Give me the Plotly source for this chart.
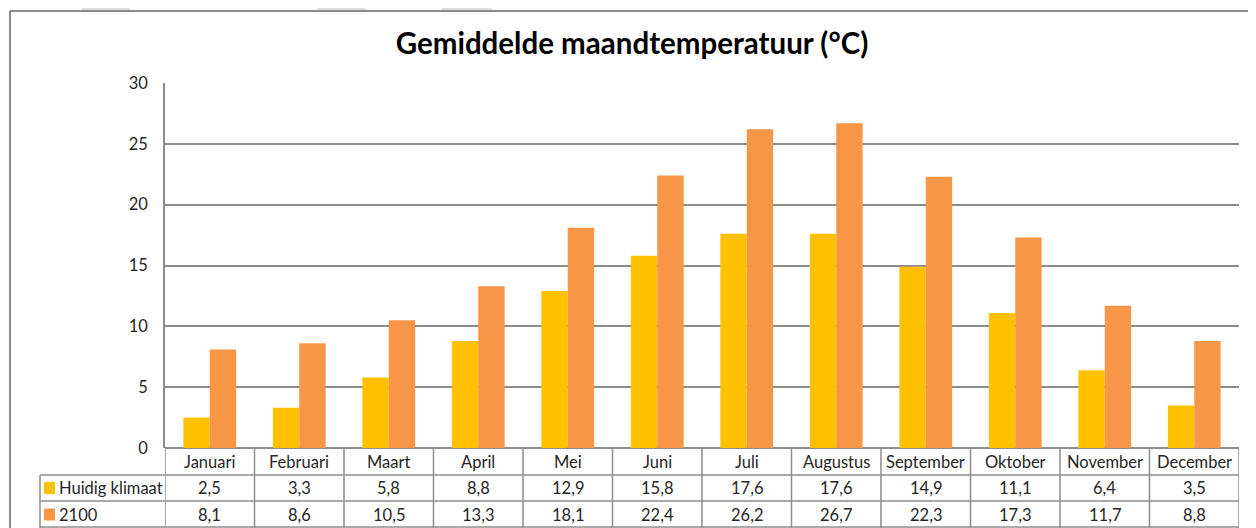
import plotly.graph_objects as go

months = ["Januari", "Februari", "Maart", "April", "Mei", "Juni", "Juli",
          "Augustus", "September", "Oktober", "November", "December"]
huidig = [2.5, 3.3, 5.8, 8.8, 12.9, 15.8, 17.6, 17.6, 14.9, 11.1, 6.4, 3.5]
jaar2100 = [8.1, 8.6, 10.5, 13.3, 18.1, 22.4, 26.2, 26.7, 22.3, 17.3, 11.7, 8.8]
series_names = ["Huidig klimaat", "2100"]
colors = ["#FFC000", "#F79646"]
title = "Gemiddelde maandtemperatuur (°C)"

OFF = 8  # page body margin
SW, SH = 1256, 528
W, H = SW - OFF, SH - OFF
L, R, T, B = 165, 1239, 83, 448   # plot area in screen pixels
FONT = "Lato"
GRID = "#8C8C8C"
TXT = "#262626"


def fx(p):
    return (p - L) / (R - L)


def fy(p):
    return (B - p) / (B - T)


fig = go.Figure()
for name, vals, col in zip(series_names, [huidig, jaar2100], colors):
    fig.add_trace(go.Bar(x=months, y=vals, name=name, marker=dict(color=col, line=dict(width=0))))

shapes = []
for pts in [[(78, 0), (123, 0), (130, 10), (82, 10)],
            [(310, 0), (355, 0), (367, 10), (318, 10)],
            [(437, 0), (483, 0), (493, 10), (442, 10)]]:
    path = "M " + " L ".join(f"{fx(a)},{fy(b)}" for a, b in pts) + " Z"
    shapes.append(dict(type="path", xref="paper", yref="paper", path=path,
                       fillcolor="#DDDDDD", line=dict(width=0), layer="below"))
shapes.append(dict(type="line", xref="paper", yref="paper", x0=fx(10), x1=fx(1300),
                   y0=fy(11), y1=fy(11), line=dict(color="#8A8A8A", width=2)))
shapes.append(dict(type="line", xref="paper", yref="paper", x0=fx(10), x1=fx(10),
                   y0=fy(11), y1=fy(540), line=dict(color="#8A8A8A", width=2)))

for yy in [475, 501, 527]:
    shapes.append(dict(type="line", xref="paper", yref="paper", x0=fx(40), x1=fx(R),
                       y0=fy(yy), y1=fy(yy), line=dict(color=GRID, width=1.5)))
shapes.append(dict(type="line", xref="paper", yref="paper", x0=fx(40), x1=fx(40),
                   y0=fy(475), y1=fy(540), line=dict(color=GRID, width=1.5)))
for i in range(len(months) + 1):
    shapes.append(dict(type="line", xref="x", yref="paper", x0=i - 0.5, x1=i - 0.5,
                       y0=fy(448), y1=fy(540), line=dict(color=GRID, width=1.5)))

FS = 16.5
annotations = []
for i, m in enumerate(months):
    annotations.append(dict(x=i, y=fy(461.5), xref="x", yref="paper", text=m,
                            xanchor="center", yanchor="middle",
                            showarrow=False, font=dict(family=FONT, size=FS, color=TXT)))
for r, (vals, yy) in enumerate(zip([huidig, jaar2100], [488, 514.5])):
    for i, v in enumerate(vals):
        annotations.append(dict(x=i, y=fy(yy), xref="x", yref="paper",
                                xanchor="center", yanchor="middle",
                                text=f"{v:.1f}".replace(".", ","), showarrow=False,
                                font=dict(family=FONT, size=FS, color=TXT)))
    shapes.append(dict(type="rect", xref="paper", yref="paper", x0=fx(44), x1=fx(55),
                       y0=fy(yy - 6), y1=fy(yy + 6), fillcolor=colors[r], line=dict(width=0)))
    annotations.append(dict(x=fx(57), y=fy(yy), xref="paper", yref="paper",
                            text=series_names[r], showarrow=False, xanchor="left",
                            yanchor="middle", font=dict(family=FONT, size=FS, color=TXT)))

fig.update_layout(
    width=W, height=H,
    margin=dict(l=L - OFF, r=SW - R, t=T - OFF, b=SH - B, pad=0),
    paper_bgcolor="white", plot_bgcolor="white",
    barmode="group", bargap=0.41, bargroupgap=0,
    showlegend=False,
    title=dict(text=f"<b>{title}</b>", x=(632 - OFF) / W, xanchor="center", xref="container",
               y=1 - (44 - OFF) / H, yanchor="middle", yref="container",
               font=dict(family=FONT, size=29.5, color="#000000")),
    xaxis=dict(showticklabels=False, ticks="", showgrid=False, showline=False,
               zeroline=False, range=[-0.5, 11.5]),
    yaxis=dict(range=[0, 30], dtick=5, showgrid=True, gridcolor=GRID, gridwidth=1.5,
               showline=True, linecolor=GRID, linewidth=1.5, zeroline=True,
               zerolinecolor=GRID, zerolinewidth=1.5, ticks="", ticklabelstandoff=12,
               tickfont=dict(family=FONT, size=FS, color=TXT)),
    shapes=shapes, annotations=annotations,
)
fig.write_html("out.html")
